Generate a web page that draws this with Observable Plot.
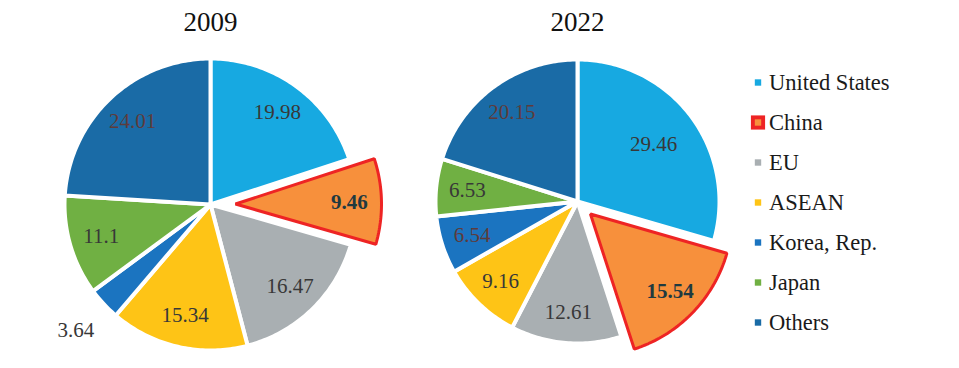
<!DOCTYPE html>
<html><head><meta charset="utf-8">
<script src="https://cdn.jsdelivr.net/npm/d3@7"></script>
<script src="https://cdn.jsdelivr.net/npm/@observablehq/plot@0.6"></script>
<style>body{margin:0;background:#fff}</style>
</head><body><div id="chart"></div>
<script>
const categories = ["United States","China","EU","ASEAN","Korea, Rep.","Japan","Others"];
const years = ["2009","2022"];
const share2009 = [19.98, 9.46, 16.47, 15.34, 3.64, 11.1, 24.01];
const share2022 = [29.46, 15.54, 12.61, 9.16, 6.54, 6.53, 20.15];
const palette = ["#17a9e1","#f7903c","#a9afb2","#fec416","#1b74c0","#70b043","#1a6ba6"];
const highlight = "China";

const W = 959, H = 368;
const serif = "'Liberation Serif','Times New Roman',serif";
const pies = [
  {year: years[0], values: share2009, cx: 210, cy: 204, r: 146, explode: 25},
  {year: years[1], values: share2022, cx: 577, cy: 201, r: 142, explode: 18}
];

const slices = [], labels = [];
for (const p of pies) {
  const arcs = d3.pie().sort(null).value(d => d)(p.values);
  arcs.forEach((a, i) => {
    const cat = categories[i];
    const mid = (a.startAngle + a.endAngle) / 2;
    const off = cat === highlight ? p.explode : 0;
    const ox = p.cx + off * Math.sin(mid), oy = p.cy - off * Math.cos(mid);
    const key = p.year + "-" + cat;
    slices.push({key, cat, x: ox, y: oy});
    const n = Math.max(2, Math.ceil((a.endAngle - a.startAngle) / (Math.PI / 180)));
    for (let k = 0; k <= n; k++) {
      const t = a.startAngle + (a.endAngle - a.startAngle) * k / n;
      slices.push({key, cat, x: ox + p.r * Math.sin(t), y: oy - p.r * Math.cos(t)});
    }
    const outside = a.value < 5;
    const lr = outside ? p.r * 1.26 : a.value > 25 ? p.r * 0.67 : p.r * 0.78;
    labels.push({cat, text: String(a.value), x: ox + lr * Math.sin(mid), y: oy - lr * Math.cos(mid),
                 dark: !outside && (cat === "Others" || cat === "Korea, Rep."), hi: cat === highlight});
  });
}

const legX = 757.5, legY0 = 82, legStep = 40;
const legend = categories.map((c, i) => ({cat: c, x: legX, y: legY0 + legStep * i}));

const chart = Plot.plot({
  width: W, height: H,
  margin: 0,
  x: {domain: [0, W], range: [0, W], axis: null},
  y: {domain: [0, H], range: [0, H], axis: null},
  color: {domain: categories, range: palette},
  marks: [
    Plot.line(slices, {x: "x", y: "y", z: "key", fill: "cat", stroke: "white", strokeWidth: 4, curve: "linear-closed"}),
    Plot.line(slices.filter(d => d.cat === highlight), {x: "x", y: "y", z: "key", fill: "cat", stroke: "#ee2424", strokeWidth: 3, strokeLinejoin: "miter", curve: "linear-closed"}),
    Plot.text(labels.filter(d => !d.dark && !d.hi), {x: "x", y: "y", text: "text", fontFamily: serif, fontSize: 21, fill: "#383838"}),
    Plot.text(labels.filter(d => d.dark), {x: "x", y: "y", text: "text", fontFamily: serif, fontSize: 21, fill: "#5e3b3b"}),
    Plot.text(labels.filter(d => d.hi), {x: "x", y: "y", text: "text", fontFamily: serif, fontSize: 21, fill: "#1f3a40", fontWeight: "bold"}),
    Plot.text(pies, {x: "cx", y: () => 22, text: "year", fontFamily: serif, fontSize: 27, fill: "#111"}),
    Plot.dot(legend.filter(d => d.cat === highlight), {x: "x", y: "y", symbol: "square", r: 8, fill: "#ee2424"}),
    Plot.dot(legend, {x: "x", y: "y", symbol: "square", r: 3.6, fill: "cat"}),
    Plot.text(legend, {x: d => d.x + 11, y: "y", text: "cat", textAnchor: "start", fontFamily: serif, fontSize: 22.5, fill: "#1a1a1a"})
  ]
});
document.getElementById("chart").append(chart);
</script>
</body></html>
